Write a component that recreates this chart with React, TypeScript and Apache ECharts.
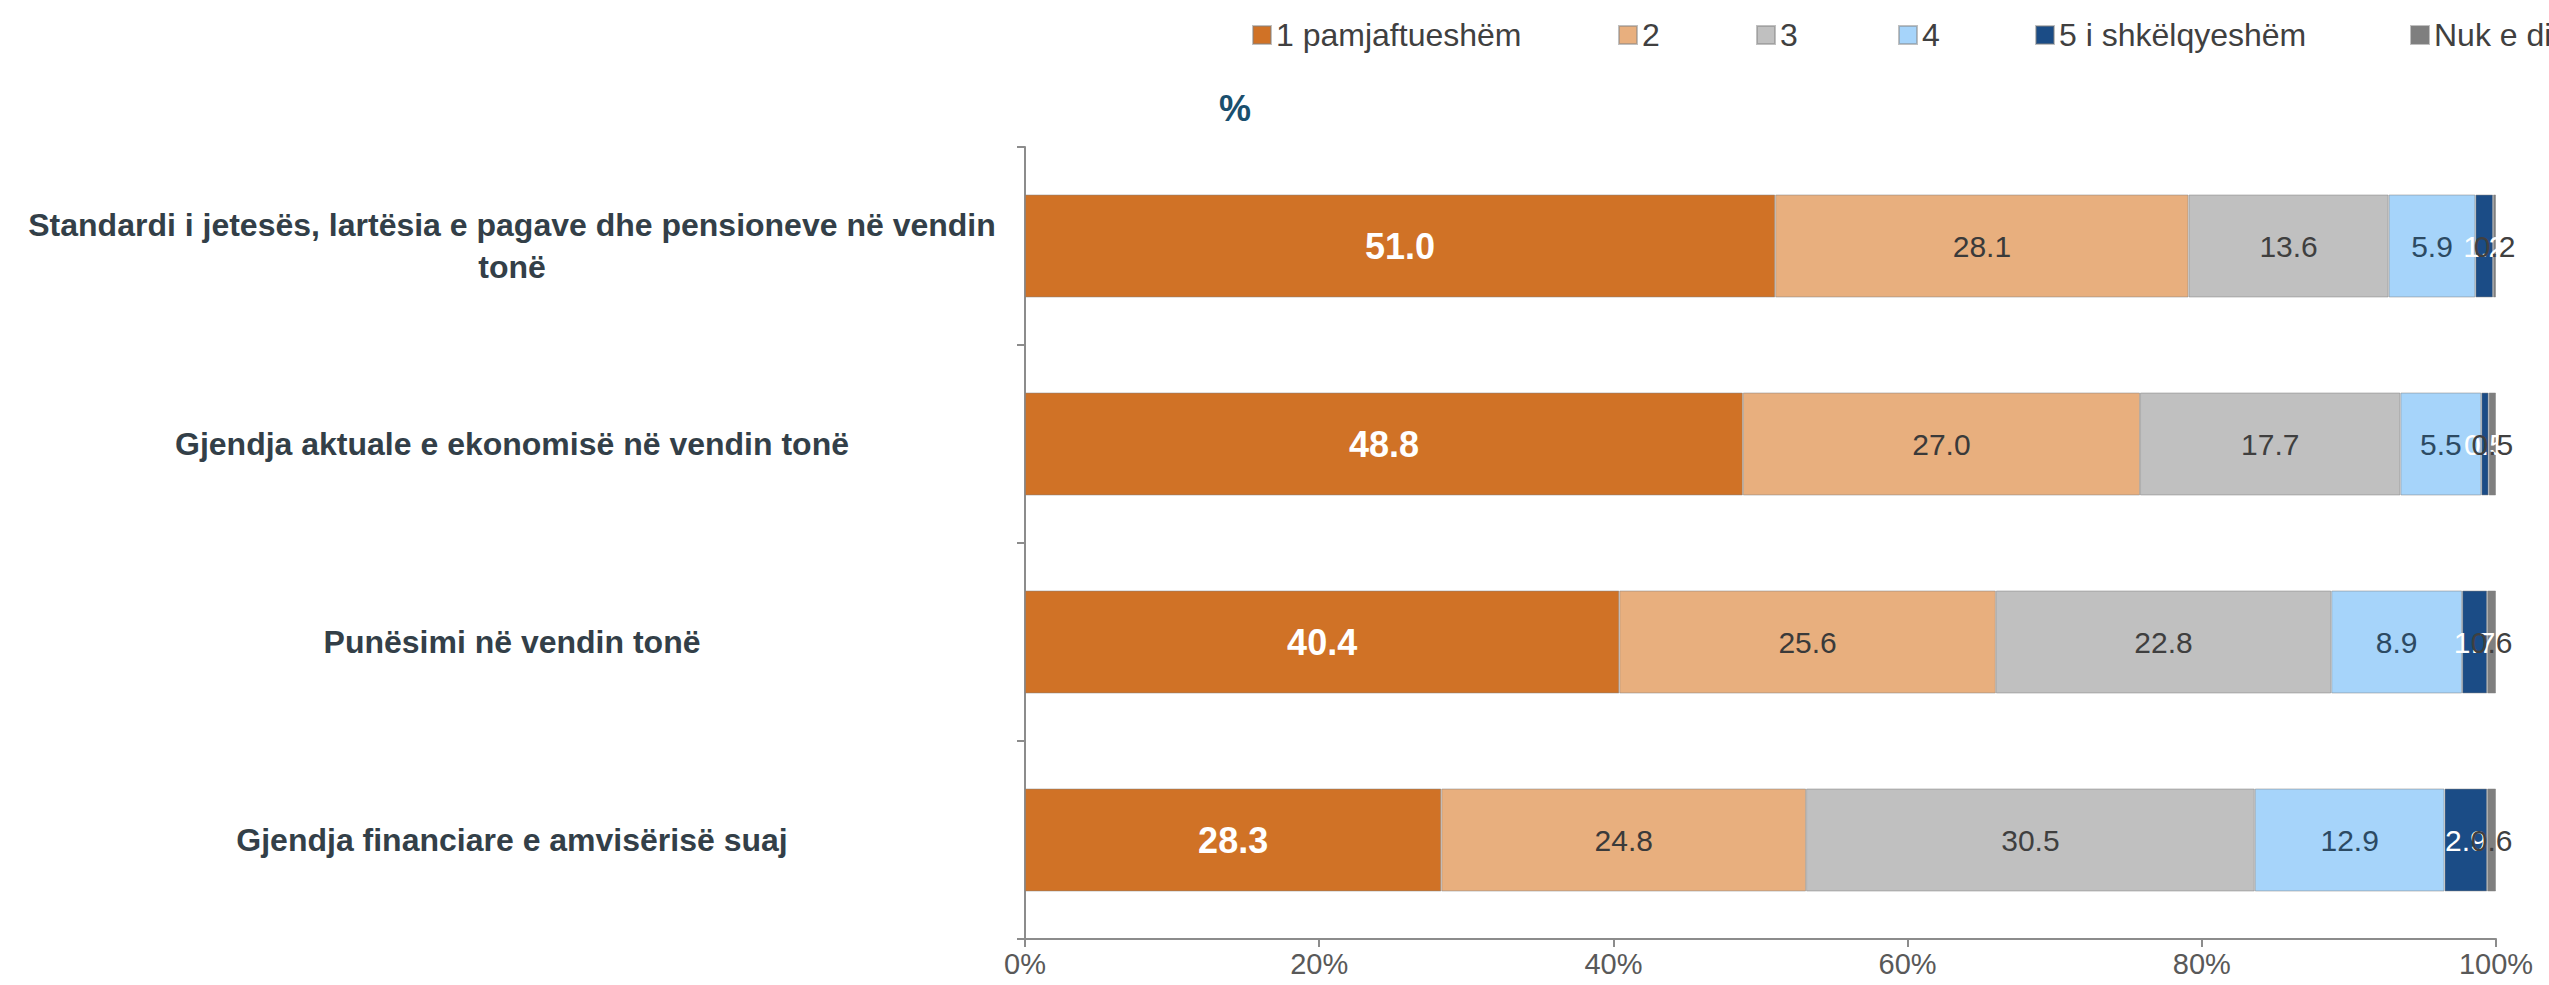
import React, { useEffect, useRef } from "react";
import * as echarts from "echarts";

const categories = [
  "Standardi i jetesës, lartësia e pagave dhe pensioneve në vendin\ntonë",
  "Gjendja aktuale e ekonomisë në vendin tonë",
  "Punësimi në vendin tonë",
  "Gjendja financiare e amvisërisë suaj",
];
const seriesNames = ["1 pamjaftueshëm", "2", "3", "4", "5 i shkëlqyeshëm", "Nuk e di"];
const s1 = [51.0, 48.8, 40.4, 28.3];
const s2 = [28.1, 27.0, 25.6, 24.8];
const s3 = [13.6, 17.7, 22.8, 30.5];
const s4 = [5.9, 5.5, 8.9, 12.9];
const s5 = [1.2, 0.5, 1.7, 2.9];
const s6 = [0.2, 0.5, 0.6, 0.6];
const seriesValues = [s1, s2, s3, s4, s5, s6];
const unitLabel = "%";

const colors = ["#D07226", "#E8AF7E", "#C0C0C0", "#A6D4FA", "#1B4C86", "#7F7F7F"];
const labelColors = ["#FFFFFF", "#3A3A3A", "#3F3F3F", "#2C4A63", "#FFFFFF", "#404040"];
const legendLeft = [1247, 1613, 1751, 1893, 2030, 2405];
const FONT = "Liberation Sans, Arial, sans-serif";

export default function App() {
  const ref = useRef<HTMLDivElement>(null);
  useEffect(() => {
    if (!ref.current) return;
    const chart = echarts.init(ref.current, null, { renderer: "svg" });
    const option = {
      animation: false,
      backgroundColor: "#FFFFFF",
      textStyle: { fontFamily: FONT },
      color: colors,
      legend: seriesNames.map((n, i) => ({
        data: [n],
        left: legendLeft[i],
        top: 14,
        itemWidth: 18,
        itemHeight: 18,
        itemGap: 0,
        icon: "rect",
        selectedMode: false,
        textStyle: { fontSize: 32, color: "#404040", fontFamily: FONT },
      })),
      graphic: [
        {
          type: "text",
          left: 1219,
          top: 90,
          style: { text: unitLabel, fontSize: 36, fontWeight: "bold", fill: "#1A4F6E", fontFamily: FONT },
        },
      ],
      grid: { left: 1025, right: 53, top: 147, bottom: 46, containLabel: false },
      xAxis: {
        type: "value",
        min: 0,
        max: 100,
        interval: 20,
        axisLine: { show: true, lineStyle: { color: "#8C8C8C", width: 2 } },
        axisTick: { show: true, length: 8, lineStyle: { color: "#8C8C8C", width: 2 } },
        splitLine: { show: false },
        axisLabel: { formatter: "{value}%", fontSize: 29, color: "#595959", margin: 10, fontFamily: FONT },
      },
      yAxis: {
        type: "category",
        data: categories,
        inverse: true,
        axisLine: { show: true, lineStyle: { color: "#8C8C8C", width: 2 } },
        axisTick: { show: true, length: 8, alignWithLabel: false, lineStyle: { color: "#8C8C8C", width: 2 } },
        axisLabel: {
          fontSize: 32,
          fontWeight: "bold",
          color: "#333F48",
          align: "center",
          margin: 513,
          lineHeight: 42,
          fontFamily: FONT,
        },
      },
      series: seriesNames.map((n, i) => ({
        name: n,
        type: "bar",
        stack: "total",
        barWidth: "52%",
        data: seriesValues[i],
        itemStyle: { color: colors[i], borderColor: "rgba(130,130,130,0.5)", borderWidth: 1 },
        label: {
          show: true,
          position: "inside",
          formatter: (p: any) => Number(p.value).toFixed(1),
          color: labelColors[i],
          fontSize: i === 0 ? 36 : 30,
          fontWeight: i === 0 ? "bold" : "normal",
          fontFamily: FONT,
        },
      })),
    };
    chart.setOption(option as any);
    return () => chart.dispose();
  }, []);
  return (
    <div
      ref={ref}
      style={{ position: "fixed", left: 0, top: 0, width: "2549px", height: "985px" }}
    />
  );
}
